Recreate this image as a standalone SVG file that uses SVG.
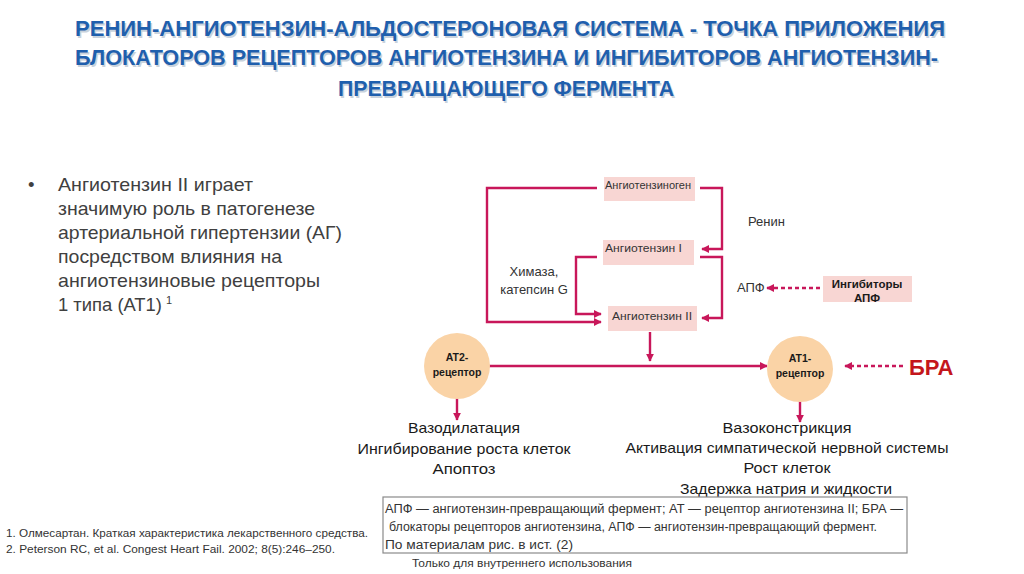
<svg xmlns="http://www.w3.org/2000/svg" width="1024" height="574" viewBox="0 0 1024 574">
<defs>
<style>
.title{font-family:"Liberation Sans",Arial,sans-serif;font-weight:bold;font-size:22px;fill:#1F5FAD}
.tshadow{font-family:"Liberation Sans",Arial,sans-serif;font-weight:bold;font-size:22px;fill:#C9D2DC}
.bul{font-family:"Liberation Sans",Arial,sans-serif;font-size:18.5px;fill:#404040}
.sup{font-family:"Liberation Sans",Arial,sans-serif;font-size:11px;fill:#404040}
.box{fill:#F8D6D3}
.btxt{font-family:"Liberation Sans",Arial,sans-serif;font-size:11px;fill:#333333}
.lbl{font-family:"Liberation Sans",Arial,sans-serif;font-size:13px;fill:#333333}
.bold{font-family:"Liberation Sans",Arial,sans-serif;font-size:11.5px;font-weight:bold;fill:#1a1a1a}
.rtxt{font-family:"Liberation Sans",Arial,sans-serif;font-size:10.5px;font-weight:bold;fill:#1a1a1a;text-anchor:middle}
.eff{font-family:"Liberation Sans",Arial,sans-serif;font-size:15px;fill:#1a1a1a;text-anchor:middle}
.note{font-family:"Liberation Sans",Arial,sans-serif;font-size:12.5px;fill:#333333}
.ref{font-family:"Liberation Sans",Arial,sans-serif;font-size:11.5px;fill:#333333}
.foot{font-family:"Liberation Sans",Arial,sans-serif;font-size:10px;fill:#333333}
.circ{fill:#FAD3A6}
.conn{fill:none;stroke:#C8175A;stroke-width:2.4}
.dash{fill:none;stroke:#C8175A;stroke-width:2.6;stroke-dasharray:4 3}
</style>
<marker id="ah" viewBox="0 0 10 10" refX="9" refY="5" markerWidth="8" markerHeight="8" markerUnits="userSpaceOnUse" orient="auto">
<path d="M0,0 L10,5 L0,10 z" fill="#C8175A"/>
</marker>
</defs>
<rect width="1024" height="574" fill="#FFFFFF"/>

<g id="title">
<text class="tshadow" x="76.5" y="37.5" textLength="870" lengthAdjust="spacingAndGlyphs">РЕНИН-АНГИОТЕНЗИН-АЛЬДОСТЕРОНОВАЯ СИСТЕМА  - ТОЧКА ПРИЛОЖЕНИЯ</text>
<text class="title" x="75" y="36" textLength="870" lengthAdjust="spacingAndGlyphs">РЕНИН-АНГИОТЕНЗИН-АЛЬДОСТЕРОНОВАЯ СИСТЕМА  - ТОЧКА ПРИЛОЖЕНИЯ</text>
<text class="tshadow" x="76.5" y="66.5" textLength="863" lengthAdjust="spacingAndGlyphs">БЛОКАТОРОВ РЕЦЕПТОРОВ АНГИОТЕНЗИНА И ИНГИБИТОРОВ АНГИОТЕНЗИН-</text>
<text class="title" x="75" y="65" textLength="863" lengthAdjust="spacingAndGlyphs">БЛОКАТОРОВ РЕЦЕПТОРОВ АНГИОТЕНЗИНА И ИНГИБИТОРОВ АНГИОТЕНЗИН-</text>
<text class="tshadow" x="339.5" y="97.5" textLength="336" lengthAdjust="spacingAndGlyphs">ПРЕВРАЩАЮЩЕГО ФЕРМЕНТА</text>
<text class="title" x="338" y="96" textLength="336" lengthAdjust="spacingAndGlyphs">ПРЕВРАЩАЮЩЕГО ФЕРМЕНТА</text>
</g>

<g id="bullet">
<text class="bul" x="28" y="191">•</text>
<text class="bul" x="58" y="191" textLength="195" lengthAdjust="spacingAndGlyphs">Ангиотензин II играет</text>
<text class="bul" x="58" y="215" textLength="257" lengthAdjust="spacingAndGlyphs">значимую роль в патогенезе</text>
<text class="bul" x="58" y="239" textLength="284" lengthAdjust="spacingAndGlyphs">артериальной гипертензии (АГ)</text>
<text class="bul" x="58" y="263" textLength="224" lengthAdjust="spacingAndGlyphs">посредством влияния на</text>
<text class="bul" x="58" y="287" textLength="262" lengthAdjust="spacingAndGlyphs">ангиотензиновые рецепторы</text>
<text class="bul" x="58" y="311" textLength="104" lengthAdjust="spacingAndGlyphs">1 типа (АТ1)</text>
<text class="sup" x="166" y="304">1</text>
</g>

<g id="connectors">
<path class="conn" d="M700,188 H722 V249 H702" marker-end="url(#ah)"/>
<path class="conn" d="M700,257 H722 V318 H702" marker-end="url(#ah)"/>
<path class="conn" d="M597,188 H487 V322 H601" marker-end="url(#ah)"/>
<path class="conn" d="M597,257 H576 V314 H601" marker-end="url(#ah)"/>
<path class="conn" d="M650,332 V361" stroke-width="2.8" marker-end="url(#ah)"/>
<path class="conn" d="M489,366 H767" stroke-width="3" marker-end="url(#ah)"/>
<path class="conn" d="M457,398 V420" stroke-width="2.8" marker-end="url(#ah)"/>
<path class="conn" d="M800,401 V422" stroke-width="2.8" marker-end="url(#ah)"/>
<path class="dash" d="M820,288 H767" marker-end="url(#ah)"/>
<path class="dash" d="M903,366 H845" marker-end="url(#ah)"/>
</g>

<g id="angiotensinogen">
<rect class="box" x="604" y="177" width="91" height="24"/>
<text class="btxt" x="605" y="189" textLength="86" lengthAdjust="spacingAndGlyphs">Ангиотензиноген</text>
</g>
<g id="angiotensin1">
<rect class="box" x="603" y="240" width="91" height="25"/>
<text class="btxt" x="605" y="252" textLength="77" lengthAdjust="spacingAndGlyphs">Ангиотензин I</text>
</g>
<g id="angiotensin2">
<rect class="box" x="608" y="306" width="89" height="25"/>
<text class="btxt" x="612" y="320" textLength="80" lengthAdjust="spacingAndGlyphs">Ангиотензин II</text>
</g>

<g id="renin-label"><text class="lbl" x="748" y="226">Ренин</text></g>
<g id="chymase-label">
<text class="lbl" x="534" y="276" text-anchor="middle">Химаза,</text>
<text class="lbl" x="534" y="294" text-anchor="middle">катепсин G</text>
</g>
<g id="ace-label"><text class="lbl" x="737" y="292">АПФ</text></g>

<g id="ace-inhibitors">
<rect class="box" x="823" y="276" width="89" height="26"/>
<text class="bold" x="867" y="288" text-anchor="middle">Ингибиторы</text>
<text class="bold" x="867" y="302" text-anchor="middle">АПФ</text>
</g>

<g id="at2">
<circle class="circ" cx="457" cy="366" r="33"/>
<text class="rtxt" x="457" y="361">AT2-</text>
<text class="rtxt" x="457" y="376">рецептор</text>
</g>
<g id="at1">
<circle class="circ" cx="800" cy="369" r="33"/>
<text class="rtxt" x="800" y="362">AT1-</text>
<text class="rtxt" x="800" y="377">рецептор</text>
</g>

<g id="bra">
<text x="909" y="375" font-family="'Liberation Sans',Arial,sans-serif" font-weight="bold" font-size="22" fill="#C4161C">БРА</text>
</g>

<g id="at2-effects">
<text class="eff" x="464" y="433" textLength="112" lengthAdjust="spacingAndGlyphs">Вазодилатация</text>
<text class="eff" x="464" y="454" textLength="213" lengthAdjust="spacingAndGlyphs">Ингибирование роста клеток</text>
<text class="eff" x="464" y="474" textLength="63" lengthAdjust="spacingAndGlyphs">Апоптоз</text>
</g>
<g id="at1-effects">
<text class="eff" x="787" y="433" textLength="129" lengthAdjust="spacingAndGlyphs">Вазоконстрикция</text>
<text class="eff" x="787" y="453" textLength="323" lengthAdjust="spacingAndGlyphs">Активация симпатической нервной системы</text>
<text class="eff" x="787" y="473" textLength="87" lengthAdjust="spacingAndGlyphs">Рост клеток</text>
<text class="eff" x="786" y="494" textLength="212" lengthAdjust="spacingAndGlyphs">Задержка натрия и жидкости</text>
</g>

<g id="legend">
<rect x="383" y="497" width="524" height="56" fill="none" stroke="#8A8A8A" stroke-width="1.2"/>
<text class="note" x="385" y="513" textLength="518" lengthAdjust="spacingAndGlyphs">АПФ — ангиотензин-превращающий фермент; АТ — рецептор ангиотензина II; БРА —</text>
<text class="note" x="389" y="531" textLength="488" lengthAdjust="spacingAndGlyphs">блокаторы рецепторов ангиотензина, АПФ — ангиотензин-превращающий фермент.</text>
<text class="note" x="385" y="549" textLength="188" lengthAdjust="spacingAndGlyphs">По материалам рис. в ист. (2)</text>
</g>

<g id="footer">
<text class="foot" x="412" y="567" textLength="220" lengthAdjust="spacingAndGlyphs">Только для внутреннего использования</text>
</g>

<g id="references">
<text class="ref" x="6" y="537" textLength="362" lengthAdjust="spacingAndGlyphs">1. Олмесартан. Краткая характеристика лекарственного средства.</text>
<text class="ref" x="6" y="553" textLength="329" lengthAdjust="spacingAndGlyphs">2. Peterson RC, et al. Congest Heart Fail. 2002; 8(5):246–250.</text>
</g>
</svg>
